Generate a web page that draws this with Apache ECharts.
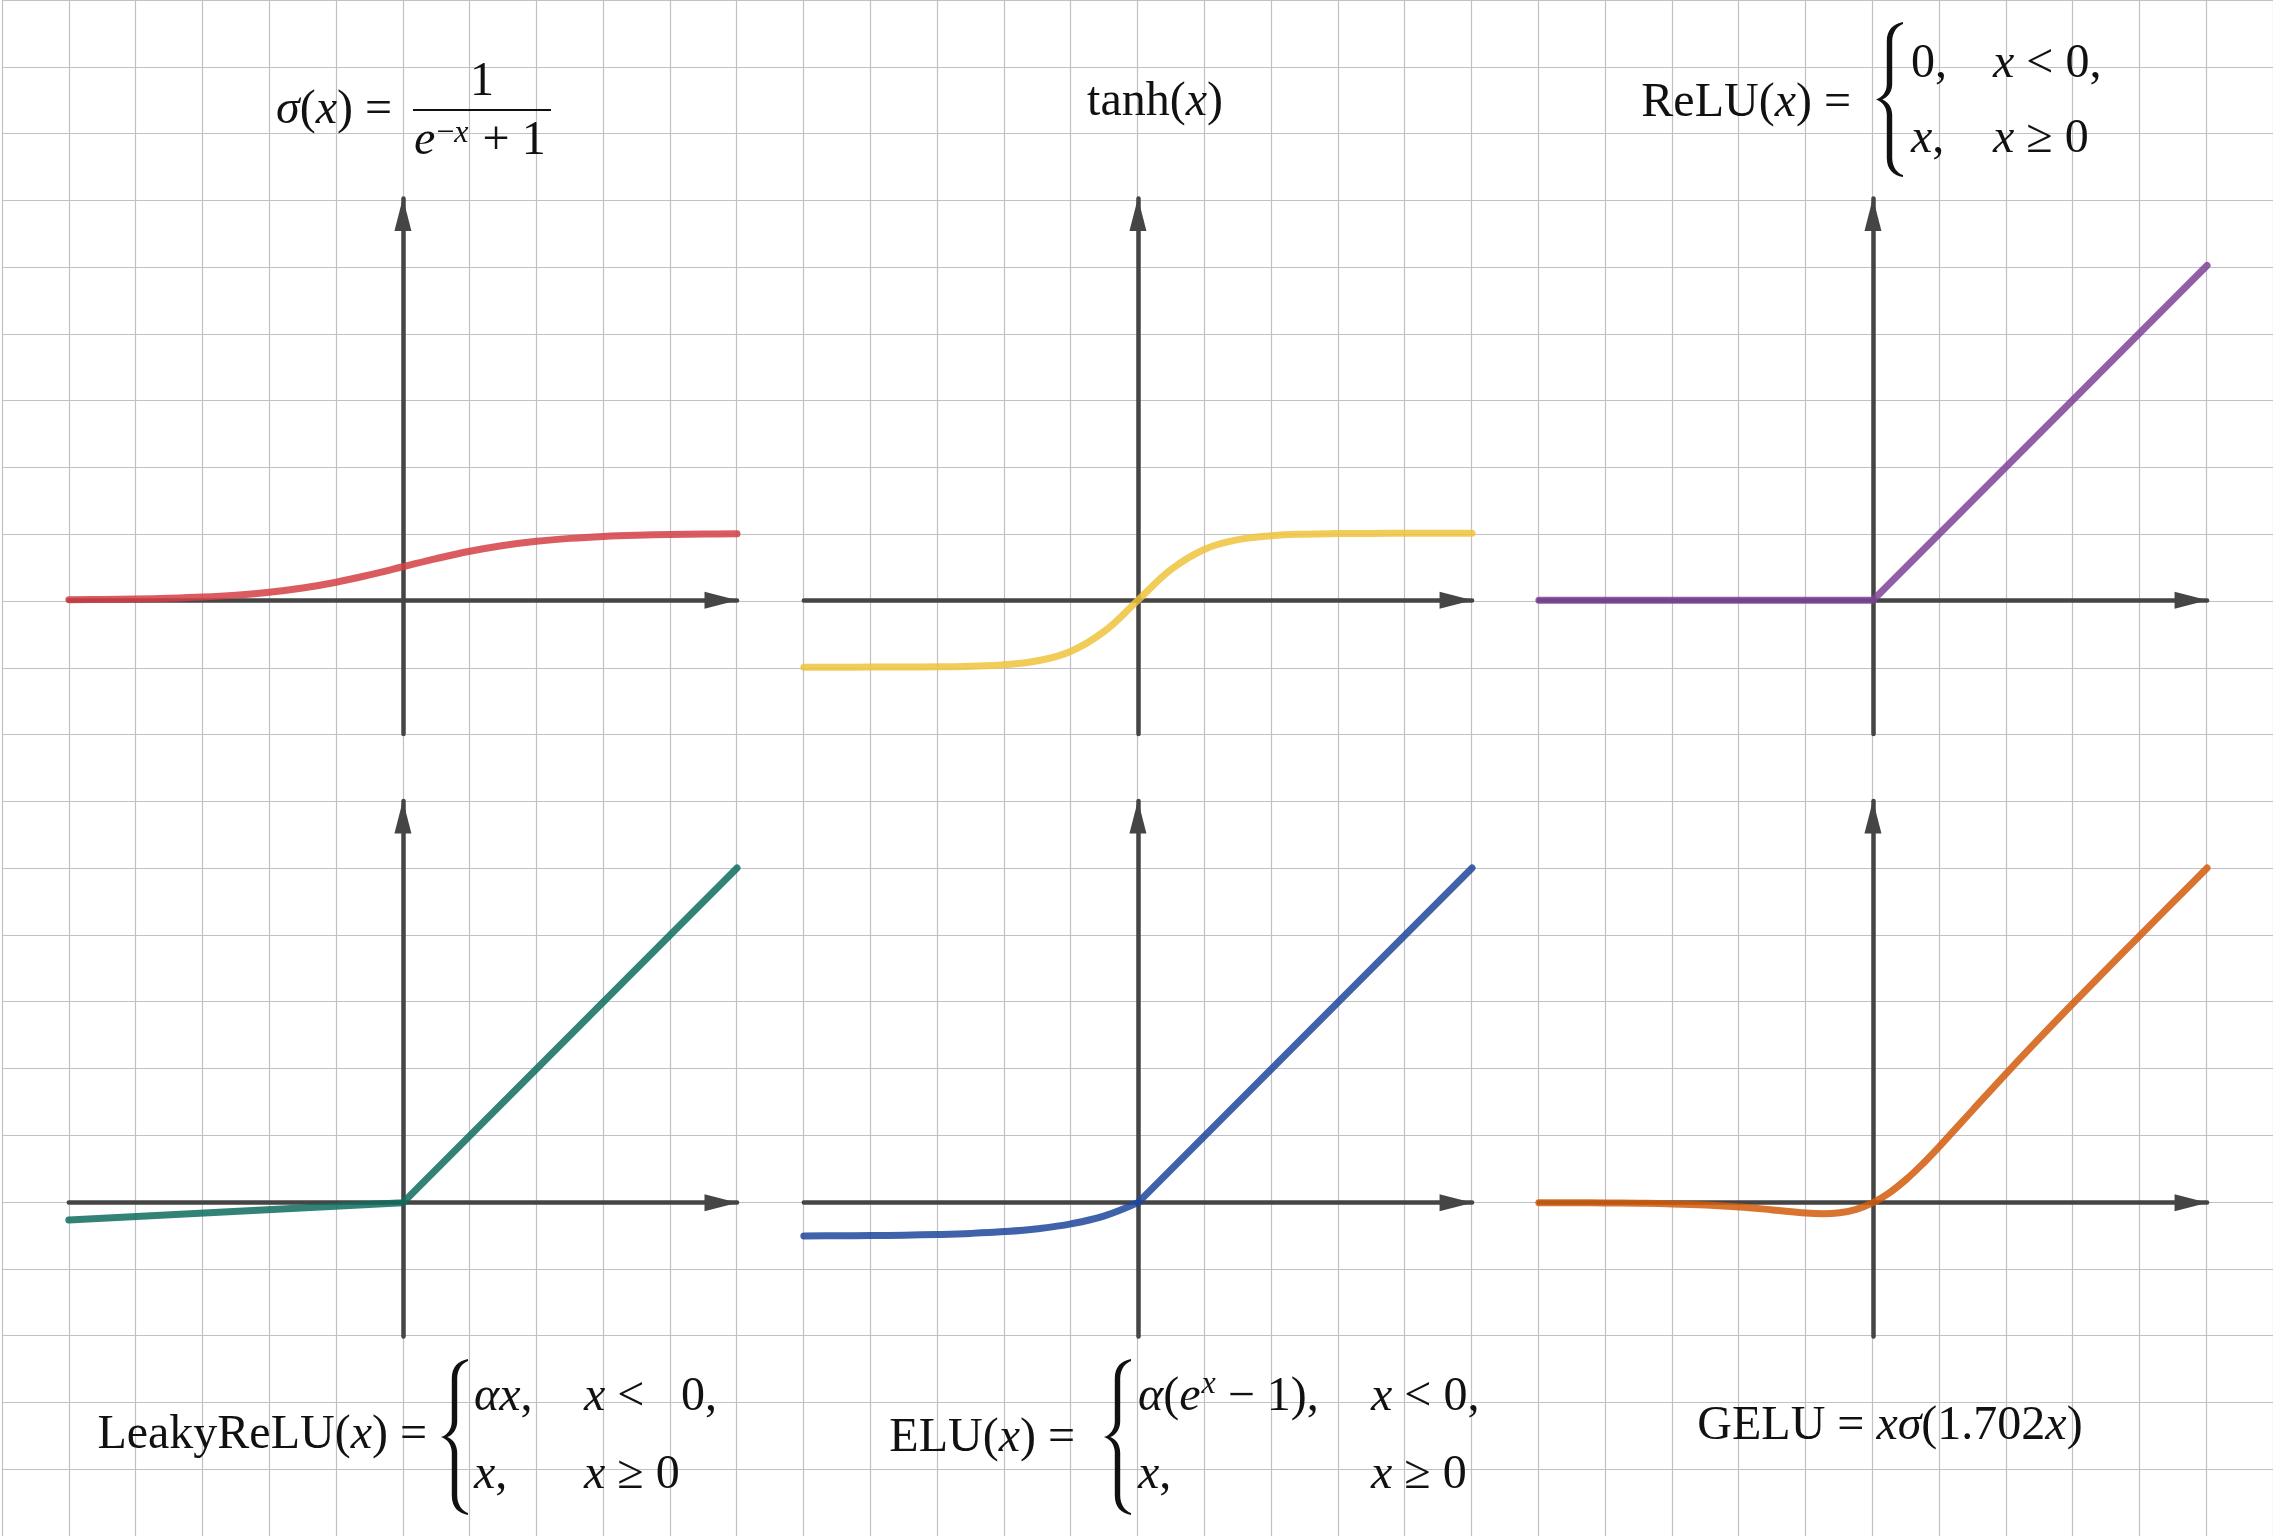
<!DOCTYPE html>
<html>
<head>
<meta charset="utf-8">
<title>Activation functions</title>
<script src="https://cdn.jsdelivr.net/npm/echarts@6/dist/echarts.min.js"></script>
<style>
  html, body { margin: 0; padding: 0; background: #fff; }
  #chart { width: 2273px; height: 1536px; }
</style>
</head>
<body>
<div id="chart"></div>
<script>
// points
const sigmoidX = [-5, -4.5, -4, -3.5, -3, -2.5, -2, -1.5, -1, -0.5, 0, 0.5, 1, 1.5, 2, 2.5, 3, 3.5, 4, 4.5, 5]
const sigmoidY = [0.007, 0.011, 0.018, 0.029, 0.047, 0.076, 0.119, 0.182, 0.269, 0.378, 0.5, 0.622, 0.731, 0.818, 0.881, 0.924, 0.953, 0.971, 0.982, 0.989, 0.993]

const tanhX = [-5, -4.5, -4, -3.5, -3, -2.5, -2, -1.5, -1, -0.5, 0, 0.5, 1, 1.5, 2, 2.5, 3, 3.5, 4, 4.5, 5]
const tanhY = [-1, -1, -0.999, -0.998, -0.995, -0.987, -0.964, -0.905, -0.762, -0.462, 0, 0.462, 0.762, 0.905, 0.964, 0.987, 0.995, 0.998, 0.999, 1, 1]

const reluX = [-5, 0, 5]
const reluY = [0, 0, 5]

const leakyX = [-5, 0, 5]
const leakyY = [-0.26, 0, 5]

const eluNegX = [-5, -4.5, -4, -3.5, -3, -2.5, -2, -1.5, -1, -0.5, 0]
const eluNegY = [-0.497, -0.494, -0.491, -0.485, -0.475, -0.459, -0.432, -0.388, -0.316, -0.197, 0]
const eluPosX = [0, 5]
const eluPosY = [0, 5]

const geluX = [-5, -4.5, -4, -3.5, -3, -2.5, -2, -1.5, -1, -0.75, -0.5, -0.25, 0, 0.25, 0.5, 0.75, 1, 1.5, 2, 2.5, 3, 3.5, 4, 4.5, 5]
const geluY = [-0.001, -0.002, -0.004, -0.009, -0.018, -0.035, -0.064, -0.108, -0.154, -0.164, -0.15, -0.099, 0, 0.151, 0.35, 0.586, 0.846, 1.392, 1.936, 2.465, 2.982, 3.491, 3.996, 4.498, 4.999]

// paper grid (pixels per cell, offset of first line)
const CW = 66.82
const CH = 66.94
const X0 = 2
const Y0 = -2.24
const panelCols = [1, 12, 23]
const panelRows = [3, 12]

const zip = (xs, ys) => xs.map((x, i) => [x, ys[i]])

const curves = [
  { panel: 0, color: '#d43f44', data: zip(sigmoidX, sigmoidY), smooth: 0.4 },
  { panel: 1, color: '#f0c33b', data: zip(tanhX, tanhY), smooth: 0.4 },
  { panel: 2, color: '#7e4395', data: zip(reluX, reluY), smooth: false },
  { panel: 3, color: '#0e6d5e', data: zip(leakyX, leakyY), smooth: false },
  { panel: 4, color: '#1f479c', data: zip(eluNegX, eluNegY), smooth: 0.4 },
  { panel: 4, color: '#1f479c', data: zip(eluPosX, eluPosY), smooth: false },
  { panel: 5, color: '#d25a0c', data: zip(geluX, geluY), smooth: 0.4 }
]

const hidden = { show: false }
const grids = [{ left: X0, top: Y0, width: 34 * CW, height: 23 * CH }]
const xAxes = [{
  gridIndex: 0, type: 'value', min: 0, max: 34, interval: 1,
  axisLine: hidden, axisTick: hidden, axisLabel: hidden,
  splitLine: { show: true, lineStyle: { color: '#c0c0c8', width: 1.2 } }
}]
const yAxes = [{
  gridIndex: 0, type: 'value', min: 0, max: 23, interval: 1,
  axisLine: hidden, axisTick: hidden, axisLabel: hidden,
  splitLine: { show: true, lineStyle: { color: '#c0c0c8', width: 1.2 } }
}]

const arrowLine = {
  show: true,
  onZero: true,
  symbol: ['none', 'triangle'],
  symbolSize: [17, 33],
  symbolOffset: [0, -16],
  lineStyle: { color: '#454545', width: 4.5, cap: 'round' }
}

for (let i = 0; i < 6; i++) {
  const col = i % 3
  const row = Math.floor(i / 3)
  grids.push({
    left: X0 + panelCols[col] * CW,
    top: Y0 + panelRows[row] * CH,
    width: 10 * CW,
    height: 8 * CH
  })
  xAxes.push({
    gridIndex: i + 1, type: 'value', min: -5, max: 5, z: 1,
    axisLine: arrowLine, axisTick: hidden, axisLabel: hidden, splitLine: hidden
  })
  yAxes.push({
    gridIndex: i + 1, type: 'value', min: -2, max: 6, z: 1,
    axisLine: arrowLine, axisTick: hidden, axisLabel: hidden, splitLine: hidden
  })
}

const series = curves.map((c) => ({
  type: 'line',
  xAxisIndex: c.panel + 1,
  yAxisIndex: c.panel + 1,
  data: c.data,
  smooth: c.smooth,
  showSymbol: false,
  silent: true,
  z: 3,
  lineStyle: { color: c.color, width: 7, opacity: 0.85, cap: 'round', join: 'round' }
}))

// formulas: each run of text is laid out piece by piece
const FONT = 'Liberation Serif'
const FS = 48
const INK = '#111'
const measureCtx = document.createElement('canvas').getContext('2d')
function fontOf(italic, size) {
  return (italic ? 'italic ' : '') + size + 'px "' + FONT + '"'
}
function textWidth(t, italic, size) {
  measureCtx.font = fontOf(italic, size)
  return measureCtx.measureText(t).width
}
// pieces: [text, italic, size, raise, gapBefore]
function seq(x, baseline, pieces, align) {
  const items = pieces.map((p) => {
    const size = p[2] || FS
    return { t: p[0], it: !!p[1], size, raise: p[3] || 0, gap: p[4] || 0, w: textWidth(p[0], !!p[1], size) }
  })
  const total = items.reduce((s, it) => s + it.gap + it.w, 0)
  let cx = align === 'right' ? x - total : align === 'center' ? x - total / 2 : x
  const out = []
  items.forEach((it) => {
    cx += it.gap
    out.push({
      type: 'text', silent: true, z: 100,
      style: {
        text: it.t, x: cx, y: baseline - it.raise - 0.2 * it.size,
        font: fontOf(it.it, it.size), fill: INK,
        align: 'left', textAlign: 'left',
        verticalAlign: 'middle', textVerticalAlign: 'middle'
      }
    })
    cx += it.w
  })
  return out
}
// curly brace outline in a 30 x 160 box
const BRACE = 'M30 0C19 2 12 8 12 20L12 64C12 72 7 78 0 80C7 82 12 88 12 96L12 140C12 152 19 158 30 160' +
  'L30 158C24 156 18 150 18 140L18 96C18 88 13 82 7 80C13 78 18 72 18 64L18 20C18 10 24 4 30 2Z'
echarts.graphic.registerShape('brace', echarts.graphic.extendPath(BRACE, {}))
function brace(x, y, w, h) {
  return [{
    type: 'brace', silent: true, z: 100,
    x: x, y: y, scaleX: w / 30, scaleY: h / 160,
    style: { fill: INK }
  }]
}

const formulas = [].concat(
  // sigmoid
  seq(392, 120, [['σ', 1], ['(', 0], ['x', 1], [') =', 0]], 'right'),
  [{ type: 'line', silent: true, z: 100, shape: { x1: 413, y1: 110, x2: 551, y2: 110 }, style: { stroke: INK, lineWidth: 1.8 } }],
  seq(482, 92, [['1', 0]], 'center'),
  seq(414, 151, [['e', 1], ['−', 0, 32, 11, 1], ['x', 1, 32, 11], ['+ 1', 0, FS, 0, 14]], 'left'),
  // tanh
  seq(1155, 112, [['tanh(', 0], ['x', 1], [')', 0]], 'center'),
  // ReLU
  seq(1851, 112.5, [['ReLU(', 0], ['x', 1], [') =', 0]], 'right'),
  brace(1876, 22, 27, 155),
  seq(1911, 73.7, [['0,', 0]]),
  seq(1993, 73.7, [['x', 1], [' < 0,', 0]]),
  seq(1911, 149, [['x', 1], [',', 0]]),
  seq(1993, 149, [['x', 1], [' ≥ 0', 0]]),
  // LeakyReLU
  seq(427, 1445, [['LeakyReLU(', 0], ['x', 1], [') =', 0]], 'right'),
  brace(441, 1359, 27, 156),
  seq(474, 1407, [['αx', 1], [',', 0]]),
  seq(584, 1407, [['x', 1], [' <', 0]]),
  seq(681, 1407, [['0,', 0]]),
  seq(474, 1485, [['x', 1], [',', 0]]),
  seq(584, 1485, [['x', 1], [' ≥ 0', 0]]),
  // ELU
  seq(1075, 1448, [['ELU(', 0], ['x', 1], [') =', 0]], 'right'),
  brace(1104, 1359, 27, 156),
  seq(1138, 1407, [['α', 1], ['(', 0], ['e', 1], ['x', 1, 32, 16, 1], ['− 1),', 0, FS, 0, 12]]),
  seq(1371, 1407, [['x', 1], [' < 0,', 0]]),
  seq(1138, 1485, [['x', 1], [',', 0]]),
  seq(1371, 1485, [['x', 1], [' ≥ 0', 0]]),
  // GELU
  seq(1890, 1435.5, [['GELU = ', 0], ['xσ', 1], ['(1.702', 0], ['x', 1], [')', 0]], 'center')
)

const chart = echarts.init(document.getElementById('chart'))
chart.setOption({
  backgroundColor: '#fff',
  animation: false,
  grid: grids,
  xAxis: xAxes,
  yAxis: yAxes,
  series: series,
  graphic: { elements: formulas }
})
</script>
</body>
</html>
